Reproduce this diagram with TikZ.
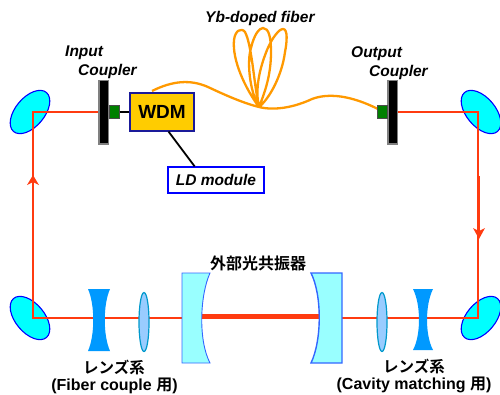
\documentclass[tikz,border=0pt]{standalone}
\usepackage{fontspec}
\setmainfont{Liberation Sans}
\newfontfamily\cjk[BoldFont={Noto Sans CJK JP Bold}]{Noto Sans CJK JP}
\usetikzlibrary{shapes.geometric,calc}
\definecolor{beamc}{HTML}{FF3B10}
\definecolor{fiberc}{HTML}{FF9900}
\definecolor{mirrorc}{HTML}{00FFFF}
\definecolor{greenc}{HTML}{008000}
\definecolor{lensb}{HTML}{0099FF}
\definecolor{lensl}{HTML}{99CCFF}
\definecolor{lensd}{HTML}{0099CC}
\definecolor{cavf}{HTML}{99FFFF}
\definecolor{cavd}{HTML}{3366FF}
\definecolor{wdmf}{HTML}{FFCC00}
\definecolor{wdmd}{HTML}{1A1A99}
\tikzset{
 mirror/.style={ellipse,draw=blue,fill=mirrorc,line width=1.1pt,minimum width=51pt,minimum height=29pt,inner sep=0pt},
 coupler/.style={rectangle,draw=gray,fill=black,line width=1.5pt,minimum width=9.5pt,minimum height=63.5pt,inner sep=0pt},
 seed/.style={rectangle,draw=black!70,fill=greenc,line width=.6pt,minimum width=9.5pt,minimum height=13pt,inner sep=0pt},
 beam/.style={draw=beamc,line width=1.6pt},
 thickbeam/.style={draw=beamc,line width=2.8pt},
 fiber/.style={draw=fiberc,line width=2.3pt,line join=round},
 ital/.style={font=\fontsize{15.5}{18}\selectfont\bfseries\itshape,inner sep=0pt,anchor=base west},
 lab/.style={font=\fontsize{16}{18}\selectfont\bfseries,inner sep=0pt,anchor=base},
 convex/.style={ellipse,draw=lensd,fill=lensl,line width=1.2pt,minimum width=10pt,minimum height=59pt,inner sep=0pt},
 cav/.style={draw=cavd,fill=cavf,line width=.9pt},
 tipbeam/.style={fill=beamc,draw=none}
}
\begin{document}
\begin{tikzpicture}[x=1pt,y=-1pt]
\useasboundingbox (0,0) rectangle (500,394);
% mirrors
\node[mirror,rotate=50] (mTL) at (30,112) {};
\node[mirror,rotate=-50] (mTR) at (481,112) {};
\node[mirror,rotate=-50] (mBL) at (30,318) {};
\node[mirror,rotate=50] (mBR) at (481,318) {};
\coordinate (cTL) at (33,112);
\coordinate (cTR) at (478,112);
\coordinate (cBL) at (33,318);
\coordinate (cBR) at (478,318);
% fiber
\node[inner sep=0pt] (knot) at (259,107) {};
\draw[fiber] (152,91) .. controls (172,81) and (190,79) .. (208,87) .. controls (225,95) and (243,103) .. (knot.center)
 .. controls (245,88) and (232,60) .. (234,40) .. controls (235,31) and (241,27) .. (245,32) .. controls (252,45) and (254,85) .. (knot.center)
 .. controls (249,90) and (247,60) .. (251,48) .. controls (254,35) and (259,28) .. (263,28) .. controls (269,28) and (271,38) .. (271,52) .. controls (271,75) and (265,92) .. (knot.center)
 .. controls (255,90) and (259,70) .. (267,50) .. controls (272,38) and (279,29) .. (283,29) .. controls (288,29) and (287,42) .. (285,52) .. controls (282,75) and (270,98) .. (knot.center)
 .. controls (275,111) and (295,107) .. (312,99) .. controls (328,93) and (350,95) .. (378,109);
% couplers and boxes
\node[coupler] (ic) at (103.5,112) {};
\node[coupler] (oc) at (392.5,112) {};
\node[seed] (si) at (114.5,112) {};
\node[seed] (so) at (382.5,112) {};
\node[rectangle,draw=wdmd,fill=wdmf,line width=1.2pt,minimum width=64pt,minimum height=38pt,inner sep=0pt,font=\fontsize{19}{22}\selectfont\bfseries] (wdm) at (162,112) {WDM};
\node[rectangle,draw=blue,fill=white,line width=1.2pt,minimum width=96pt,minimum height=26pt,inner sep=0pt,font=\fontsize{15.5}{18}\selectfont\bfseries\itshape] (ld) at (216,180) {LD module};
\draw[line width=1.8pt] (si) -- (wdm);
\draw[line width=1.8pt] ($(wdm.south west)!.6!(wdm.south east)$) -- ($(ld.north west)!.28!(ld.north east)$);
% beams
\draw[beam] (ic.west) -- (cTL) -- (cBL) -- (cBR) -- (cTR) -- (oc.east);
\draw[thickbeam] (33,184) -- (33,235);
\draw[thickbeam] (479,176) -- (479,232);
\draw[draw=beamc,line width=4pt] (201,316) -- (320,316);
\fill[tipbeam] (33,175) -- (39,185) -- (33,182) -- (27,185) -- cycle;
\fill[tipbeam] (479,239) -- (473,228) -- (479,231) -- (485,228) -- cycle;
% lenses
\path[fill=lensb] (88,289) -- (110,289) .. controls (103,305) and (103,335) .. (110,351) -- (88,351) .. controls (95,335) and (95,305) .. (88,289) -- cycle;
\path[fill=lensb] (413,289) -- (433,289) .. controls (425,305) and (425,335) .. (433,350) -- (413,350) .. controls (421,335) and (421,305) .. (413,289) -- cycle;
\node[convex] (l1) at (144,322) {};
\node[convex] (l2) at (382,322) {};
% cavity mirrors
\path[cav] (182,273) -- (210,273) .. controls (200,295) and (198,340) .. (210,363) -- (182,363) -- cycle;
\path[cav,line width=1.4pt] (311,273) -- (342,273) -- (342,363) -- (311,363) .. controls (322,340) and (322,295) .. (311,273) -- cycle;
% text
\node[ital] (t1) at (65,56) {Input};
\node[ital] (t2) at (78,75) {Coupler};
\node[ital] (t3) at (351,57) {Output};
\node[ital] (t4) at (369,76) {Coupler};
\node[ital] (t5) at (205,22) {Yb-doped fiber};
\node[lab,font=\fontsize{16}{18}\selectfont\bfseries\cjk] (t6) at (258,269) {外部光共振器};
\node[lab,font=\fontsize{15.5}{18}\selectfont\bfseries\cjk] (t7) at (114,373) {レンズ系};
\node[lab] (t8) at (114.5,390) {(Fiber couple {\cjk 用})};
\node[lab,font=\fontsize{15.5}{18}\selectfont\bfseries\cjk] (t9) at (414,372) {レンズ系};
\node[lab] (t10) at (414,389) {(Cavity matching {\cjk 用})};
\end{tikzpicture}
\end{document}
